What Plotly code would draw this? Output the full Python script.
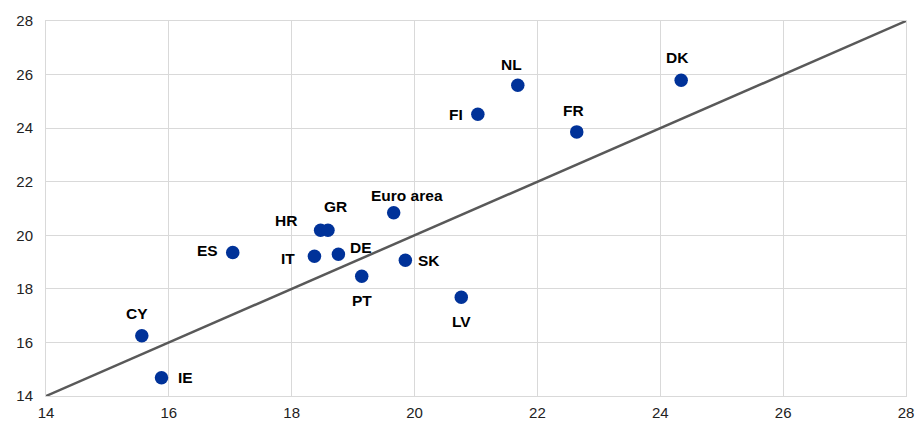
import plotly.graph_objects as go

countries = ["CY", "IE", "ES", "HR", "GR", "IT", "DE", "PT", "SK",
             "Euro area", "LV", "FI", "NL", "FR", "DK"]
x_vals = [15.56, 15.88, 17.04, 18.47, 18.59, 18.37, 18.76, 19.14, 19.85,
          19.66, 20.76, 21.03, 21.68, 22.64, 24.34]
y_vals = [16.25, 14.68, 19.36, 20.19, 20.19, 19.22, 19.29, 18.47, 19.07,
          20.84, 17.69, 24.52, 25.60, 23.86, 25.79]
line_x = [14, 28]
line_y = [14, 28]
ticks = [14, 16, 18, 20, 22, 24, 26, 28]

# label offsets in pixels (x, y up)
offsets = {
    "CY": (-5, 22), "IE": (24, 0), "ES": (-25, 2), "HR": (-35, 10),
    "GR": (8, 24), "IT": (-26, -2), "DE": (23, 7), "PT": (0, -24),
    "SK": (24, 0), "Euro area": (13, 17), "LV": (0, -24), "FI": (-22, 0),
    "NL": (-6, 21), "FR": (-3, 21), "DK": (-4, 23),
}

fig = go.Figure()
fig.add_trace(go.Scatter(x=line_x, y=line_y, mode="lines",
                         line=dict(color="#595959", width=2.5),
                         hoverinfo="skip", showlegend=False))
fig.add_trace(go.Scatter(x=x_vals, y=y_vals, mode="markers",
                         marker=dict(color="#003299", size=13.5),
                         text=countries, showlegend=False))

for c, x, y in zip(countries, x_vals, y_vals):
    dx, dy = offsets[c]
    fig.add_annotation(x=x, y=y, text="<b>" + c + "</b>", showarrow=False,
                       xshift=dx, yshift=dy,
                       font=dict(family="Liberation Sans, Arial", size=15.5, color="#000000"))

axis_style = dict(range=[14, 28], tickvals=ticks, showgrid=True,
                  gridcolor="#d9d9d9", gridwidth=1, zeroline=False,
                  showline=True, linecolor="#d9d9d9", mirror=True,
                  ticks="", automargin=False,
                  tickfont=dict(family="Liberation Sans, Arial", size=15, color="#222222"))

fig.update_xaxes(**axis_style, ticklabelstandoff=3)
fig.update_yaxes(**axis_style, ticklabelstandoff=9)
fig.update_layout(width=916, height=421, plot_bgcolor="white", paper_bgcolor="white",
                  margin=dict(l=46, r=10, t=21, b=25))

# drop the default page margin so the figure fills the window without scrollbars
fig.write_html("out.html", config={"displayModeBar": False},
               post_script="document.body.style.margin='0';document.body.style.overflow='hidden';")
